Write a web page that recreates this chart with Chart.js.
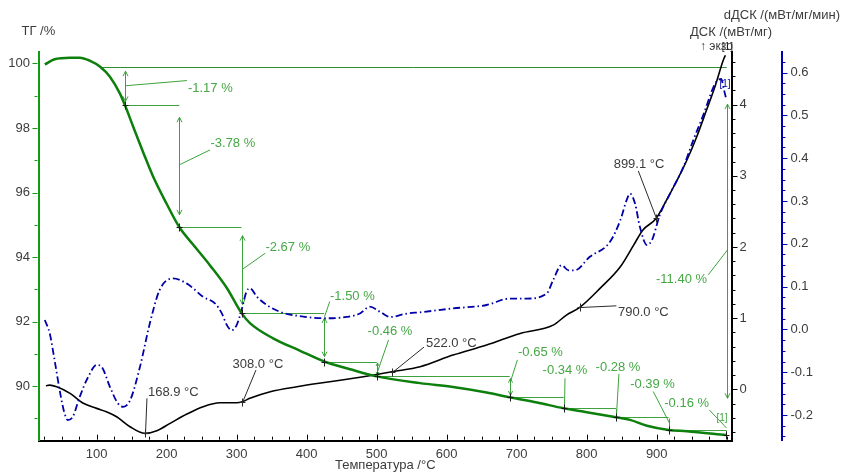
<!DOCTYPE html>
<html>
<head>
<meta charset="utf-8">
<script src="https://cdn.jsdelivr.net/npm/chart.js@4.4.1/dist/chart.umd.min.js"></script>
<style>
  html, body { margin: 0; padding: 0; background: #ffffff; overflow: hidden; }
  #wrap { width: 841px; height: 472px; }
</style>
</head>
<body>
<div id="wrap"><canvas id="c" width="841" height="472"></canvas></div>
<script>
// ---- tick labels ----
const X_TICKS = [100, 200, 300, 400, 500, 600, 700, 800, 900];
const TG_TICKS = [90, 92, 94, 96, 98, 100];
const DSC_TICKS = [0, 1, 2, 3, 4];
const DDSC_TICKS = [-0.2, -0.1, 0.0, 0.1, 0.2, 0.3, 0.4, 0.5, 0.6];

// ---- TG curve (mass, %) ----
const TG_T   = [26, 40, 62, 76, 90, 105, 119, 133, 140.4, 152.4, 166.6, 181, 200, 218, 238, 262, 286, 307,
                319, 352, 390, 425, 462, 500, 562, 609, 657, 690, 729, 767, 800, 842, 862, 886, 917, 943, 999];
const TG_PCT = [99.97, 100.13, 100.18, 100.18, 100.09, 99.90, 99.59, 99.08, 98.71, 98.03, 97.24, 96.48, 95.65, 94.93,
                94.38, 93.74, 93.04, 92.26, 91.95, 91.48, 91.10, 90.76, 90.52, 90.30, 90.09, 89.97, 89.80, 89.65,
                89.49, 89.31, 89.19, 89.03, 88.95, 88.77, 88.64, 88.60, 88.48];

// ---- DSC curve (mW/mg) ----
const DSC_T   = [27.6, 33, 43, 62, 81, 100, 114, 128.6, 147.6, 168.9, 186, 205, 229, 252, 276, 300, 308, 319, 348,
                 386, 433, 481, 500, 522, 562, 609, 657, 705, 752, 771, 790, 819, 848, 867, 880, 899.1, 914, 929,
                 943, 957, 971, 983, 995, 998];
const DSC_VAL = [0.051, 0.060, 0.036, -0.056, -0.196, -0.267, -0.314, -0.385, -0.525, -0.618, -0.581, -0.477, -0.347,
                 -0.244, -0.188, -0.188, -0.174, -0.126, -0.034, 0.036, 0.107, 0.177, 0.208, 0.247, 0.317, 0.481,
                 0.622, 0.786, 0.902, 1.043, 1.151, 1.418, 1.721, 2.025, 2.236, 2.40, 2.657, 2.937, 3.218, 3.545,
                 3.920, 4.247, 4.622, 4.692];

// ---- dDSC curve (mW/mg/min) ----
const DDSC_T   = [26, 33, 40, 48, 54, 59, 66, 76, 88, 100, 107, 119, 130, 138, 148, 162, 176, 190, 209, 229, 238,
                  252, 269, 279, 286, 293, 300, 307, 314, 319, 329, 343, 362, 390, 429, 457, 476, 490, 505, 519,
                  543, 562, 609, 657, 690, 714, 743, 752, 764, 774, 783, 804, 833, 848, 857, 862, 869, 876, 886,
                  893, 905, 919, 938, 952, 967, 981, 986, 992, 996, 999];
const DDSC_VAL = [0.022, -0.009, -0.072, -0.149, -0.195, -0.212, -0.204, -0.157, -0.111, -0.083, -0.087, -0.134,
                  -0.172, -0.181, -0.165, -0.087, 0.014, 0.092, 0.119, 0.107, 0.096, 0.076, 0.061, 0.037, 0.010,
                  -0.002, 0.010, 0.045, 0.088, 0.096, 0.076, 0.057, 0.041, 0.031, 0.026, 0.029, 0.037, 0.053,
                  0.041, 0.029, 0.037, 0.040, 0.049, 0.057, 0.072, 0.072, 0.084, 0.115, 0.150, 0.138, 0.138,
                  0.169, 0.204, 0.255, 0.302, 0.317, 0.294, 0.239, 0.197, 0.208, 0.270, 0.317, 0.379, 0.441,
                  0.503, 0.566, 0.580, 0.585, 0.560, 0.540];

// ---- mass-loss steps ----
const TG_REF_LEVEL = 99.88;   // TG level the first step is measured from
const TG_REF_T = 105;         // where the reference line begins
const STEP_T = [140.4, 218, 307, 425, 500, 690, 767, 842, 917, 999];
const STEP_LOSS = [-1.17, -3.78, -2.67, -1.50, -0.46, -0.65, -0.34, -0.28, -0.39, -0.16];
const TOTAL_T = 1000;
const TOTAL_LOSS = -11.40;

// ---- characteristic DSC temperatures, °C ----
const PEAK_T = [168.9, 308.0, 522.0, 790.0, 899.1];

// ---- label placement (axis units) ----
// step leaders: [TG on the arrow, T end, TG end]; step labels: [T, TG, align]
const STEP_LEADER = [
  [99.31, 229, 99.47], [96.86, 262, 97.32], [93.62, 341, 94.12], [92.15, 433, 92.62], [90.44, 517, 91.43],
  [90.14, 701, 90.81], [89.36, 769, 90.24], [89.11, 846, 90.38], [88.85, 895, 89.83], [88.70, 975, 89.26]
];
const STEP_LABEL = [
  [230.4, 99.24, 'left'], [262.6, 97.53, 'left'], [341.1, 94.30, 'left'], [433.3, 92.78, 'left'],
  [519, 91.69, 'center'], [701.9, 91.05, 'left'], [769, 90.47, 'center'], [844.7, 90.57, 'center'],
  [894, 90.06, 'center'], [974.7, 89.47, 'right']
];
const TOTAL_LEADER = [94.22, 973.7, 93.45];
const TOTAL_LABEL = [971.9, 93.29, 'right'];
// peak leaders: [T end, DSC end]; peak labels: [T, DSC, align]
const PEAK_LEADER = [[171.9, -0.126], [327.6, 0.271], [567.6, 0.594], [842.4, 1.173], [873.7, 3.068]];
const PEAK_LABEL = [[173.3, -0.038, 'left'], [330.4, 0.355, 'center'], [570.4, 0.646, 'left'],
                    [844.7, 1.075, 'left'], [874.7, 3.162, 'center']];

// ---- styling ----
const FONT = "'Liberation Sans', Arial, sans-serif";
const TEXT_GRAY = '#3c3c3c';
const TG_COLOR = '#0d7f0d';
const TG_AXIS = '#129a12';
const ANN_LINE = '#3da23d';
const ANN_TEXT = '#45a845';
const DSC_COLOR = '#000000';
const DDSC_COLOR = '#0000a8';
const DDSC_AXIS = '#0000b4';

function toPoints(xs, ys) { return xs.map((x, i) => ({ x: x, y: ys[i] })); }

function stepLevels() {
  const lv = [TG_REF_LEVEL];
  STEP_LOSS.forEach(d => lv.push(+(lv[lv.length - 1] + d).toFixed(3)));
  return lv;
}

function arrowHead(ctx, x, y, dir, size) {
  ctx.moveTo(x - size * 0.5, y - dir * size);
  ctx.lineTo(x, y);
  ctx.lineTo(x + size * 0.5, y - dir * size);
}
function vArrow(ctx, x, yTop, yBot) {
  const span = yBot - yTop;
  const a = yTop + span * 0.1, b = yBot - span * 0.1;
  ctx.beginPath();
  ctx.moveTo(x, a); ctx.lineTo(x, b);
  if (span > 14) {
    const s = Math.min(5, span * 0.2);
    arrowHead(ctx, x, a, -1, s);
    arrowHead(ctx, x, b, 1, s);
  }
  ctx.stroke();
}
function cross(ctx, x, y, r) {
  ctx.beginPath();
  ctx.moveTo(x - r, y); ctx.lineTo(x + r, y);
  ctx.moveTo(x, y - r - 1); ctx.lineTo(x, y + r + 1);
  ctx.stroke();
}
function text(ctx, str, x, y, align, color, size) {
  ctx.font = (size || 13) + 'px ' + FONT;
  ctx.fillStyle = color;
  ctx.textAlign = align;
  ctx.textBaseline = 'middle';
  ctx.fillText(str, x, y);
}

// Mass-loss steps, DSC temperature markers and header texts
const thermoAnnotations = {
  id: 'thermoAnnotations',
  beforeDatasetsDraw(chart) {
    const ctx = chart.ctx;
    const X = v => chart.scales.x.getPixelForValue(v);
    const Y = v => chart.scales.yTG.getPixelForValue(v);
    const lv = stepLevels();
    ctx.save();
    ctx.lineWidth = 1;
    // reference level
    ctx.strokeStyle = '#2f8f2f';
    ctx.beginPath();
    ctx.moveTo(X(TG_REF_T), Math.round(Y(lv[0])) + 0.5);
    ctx.lineTo(X(TOTAL_T), Math.round(Y(lv[0])) + 0.5);
    ctx.stroke();
    ctx.strokeStyle = ANN_LINE;
    for (let i = 0; i < STEP_T.length; i++) {
      const x = Math.round(X(STEP_T[i])) + 0.5;
      vArrow(ctx, x, Y(lv[i]), Y(lv[i + 1]));
      if (i + 1 < STEP_T.length) {
        const y = Math.round(Y(lv[i + 1])) + 0.5;
        ctx.beginPath(); ctx.moveTo(X(STEP_T[i]), y); ctx.lineTo(X(STEP_T[i + 1]), y); ctx.stroke();
      }
      const L = STEP_LEADER[i];
      ctx.beginPath(); ctx.moveTo(x, Y(L[0])); ctx.lineTo(X(L[1]), Y(L[2])); ctx.stroke();
    }
    // total loss
    const xt = Math.round(X(TOTAL_T)) + 0.5;
    vArrow(ctx, xt, Y(lv[0]), Y(lv[0] + TOTAL_LOSS));
    ctx.beginPath(); ctx.moveTo(xt, Y(TOTAL_LEADER[0])); ctx.lineTo(X(TOTAL_LEADER[1]), Y(TOTAL_LEADER[2])); ctx.stroke();
    ctx.restore();
  },
  afterDatasetsDraw(chart) {
    const ctx = chart.ctx;
    const sx = chart.scales.x, sTG = chart.scales.yTG, sD = chart.scales.yDSC, sDD = chart.scales.yDDSC;
    const X = v => sx.getPixelForValue(v);
    const Y = v => sTG.getPixelForValue(v);
    const YD = v => sD.getPixelForValue(v);
    const lv = stepLevels();
    ctx.save();
    ctx.lineWidth = 1;
    // step crosses and labels
    ctx.strokeStyle = '#1a1a1a';
    STEP_T.forEach((t, i) => cross(ctx, Math.round(X(t)) + 0.5, Math.round(Y(lv[i + 1])) + 0.5, 3));
    STEP_LOSS.forEach((d, i) => {
      const p = STEP_LABEL[i];
      text(ctx, d.toFixed(2) + ' %', X(p[0]), Y(p[1]), p[2], ANN_TEXT);
    });
    text(ctx, TOTAL_LOSS.toFixed(2) + ' %', X(TOTAL_LABEL[0]), Y(TOTAL_LABEL[1]), TOTAL_LABEL[2], ANN_TEXT);

    // DSC temperatures
    ctx.strokeStyle = '#2a2a2a';
    PEAK_T.forEach((t, i) => {
      const v = DSC_VAL[DSC_T.indexOf(t)];
      const px = Math.round(X(t)) + 0.5, py = Math.round(YD(v)) + 0.5;
      ctx.beginPath(); ctx.moveTo(px, py); ctx.lineTo(X(PEAK_LEADER[i][0]), YD(PEAK_LEADER[i][1])); ctx.stroke();
      cross(ctx, px, py, 3);
      const p = PEAK_LABEL[i];
      text(ctx, t.toFixed(1) + ' °C', X(p[0]), YD(p[1]), p[2], TEXT_GRAY);
    });

    // curve end tags
    const nT = TG_T.length - 1, nD = DSC_T.length - 1, nDD = DDSC_T.length - 1;
    text(ctx, '[1]', X(TG_T[nT]) - 4, Y(TG_PCT[nT]) - 17, 'center', ANN_TEXT, 10);
    text(ctx, '[1]', X(DDSC_T[nDD]) - 1, sDD.getPixelForValue(DDSC_VAL[nDD]) - 14, 'center', DDSC_COLOR, 10);

    // headers
    const ca = chart.chartArea;
    text(ctx, 'ТГ /%', sTG.left + 21.5, ca.top - 21, 'left', TEXT_GRAY);
    text(ctx, 'dДСК /(мВт/мг/мин)', 840, ca.top - 36.5, 'right', TEXT_GRAY);
    text(ctx, 'ДСК /(мВт/мг)', ca.right - 42, ca.top - 19.5, 'left', TEXT_GRAY);
    text(ctx, '↑ экзо', ca.right - 32, ca.top - 5.5, 'left', TEXT_GRAY, 12);
    text(ctx, '[1]', X(DSC_T[nD]) + 2, YD(DSC_VAL[nD]) - 8, 'center', '#1a1a1a', 10);
    ctx.restore();
  },
  afterDraw(chart) {
    // axis tick marks: long at labelled values, short in between
    const ctx = chart.ctx, ca = chart.chartArea;
    function marks(scale, from, to, step, majors, horizontal, base, dir, majorLen, minorLen, color) {
      ctx.save();
      ctx.strokeStyle = color; ctx.lineWidth = 1;
      ctx.beginPath();
      const n = Math.round((to - from) / step);
      for (let k = 0; k <= n; k++) {
        const v = from + k * step;
        const major = majors.some(m => Math.abs(m - v) < step / 10);
        const len = major ? majorLen : minorLen;
        const p = Math.round(scale.getPixelForValue(v)) + 0.5;
        if (horizontal) { ctx.moveTo(p, base); ctx.lineTo(p, base + dir * len); }
        else { ctx.moveTo(base, p); ctx.lineTo(base + dir * len, p); }
      }
      ctx.stroke();
      ctx.restore();
    }
    const s = chart.scales;
    marks(s.x, 25, 1000, 25, X_TICKS, true, ca.bottom - 1, -1, 5, 3, '#000000');
    marks(s.yTG, 89, 100, 1, TG_TICKS, false, ca.left - 1, -1, 5, 3, TG_AXIS);
    marks(s.yDSC, -0.6, 4.6, 0.2, DSC_TICKS, false, ca.right + 1, 1, 4.5, 2.5, '#000000');
    marks(s.yDDSC, -0.25, 0.625, 0.025, DDSC_TICKS, false, s.yDDSC.left + 1, 1, 4.5, 2.5, DDSC_AXIS);
  }
};

const tickFont = { family: FONT, size: 13 };
const noGrid = { display: true, drawOnChartArea: false, drawTicks: false };

new Chart(document.getElementById('c'), {
  type: 'line',
  data: {
    datasets: [
      { label: 'ТГ', data: toPoints(TG_T, TG_PCT), yAxisID: 'yTG', borderColor: TG_COLOR, borderWidth: 2.5,
        pointRadius: 0, cubicInterpolationMode: 'monotone', fill: false },
      { label: 'dДСК', data: toPoints(DDSC_T, DDSC_VAL), yAxisID: 'yDDSC', borderColor: DDSC_COLOR, borderWidth: 1.8,
        borderDash: [7, 3, 1.5, 3], pointRadius: 0, cubicInterpolationMode: 'monotone', fill: false },
      { label: 'ДСК', data: toPoints(DSC_T, DSC_VAL), yAxisID: 'yDSC', borderColor: DSC_COLOR, borderWidth: 1.6,
        pointRadius: 0, cubicInterpolationMode: 'monotone', fill: false }
    ]
  },
  options: {
    responsive: false,
    maintainAspectRatio: false,
    animation: false,
    layout: { padding: { top: 52, left: 0, right: 0, bottom: 0 } },
    plugins: { legend: { display: false }, tooltip: { enabled: false } },
    scales: {
      x: {
        type: 'linear', position: 'bottom', min: 17, max: 1007.5,
        afterFit: s => { s.height = 31.3; },
        afterBuildTicks: s => { s.ticks = X_TICKS.map(v => ({ value: v })); },
        ticks: { padding: 5.5, font: tickFont, color: TEXT_GRAY, maxRotation: 0, autoSkip: false,
                 callback: v => String(v) },
        grid: noGrid,
        border: { display: true, color: '#000000', width: 2 },
        title: { display: true, text: 'Температура /°C', color: TEXT_GRAY,
                 font: { family: FONT, size: 13, lineHeight: 1 }, padding: { top: 0, bottom: 0.5 } }
      },
      yTG: {
        type: 'linear', position: 'left', min: 88.305, max: 100.356,
        afterFit: s => { s.width = 38.5; },
        afterBuildTicks: s => { s.ticks = TG_TICKS.map(v => ({ value: v })); },
        ticks: { padding: 8.5, font: tickFont, color: TEXT_GRAY, callback: v => String(v) },
        grid: noGrid,
        border: { display: true, color: TG_AXIS, width: 2 }
      },
      yDSC: {
        type: 'linear', position: 'right', weight: 0, min: -0.721, max: 4.738,
        afterFit: s => { s.width = 50; },
        afterBuildTicks: s => { s.ticks = DSC_TICKS.map(v => ({ value: v })); },
        ticks: { padding: 7.5, font: tickFont, color: TEXT_GRAY, callback: v => String(v) },
        grid: noGrid,
        border: { display: true, color: '#000000', width: 2 }
      },
      yDDSC: {
        type: 'linear', position: 'right', weight: 1, min: -0.260, max: 0.648,
        afterFit: s => { s.width = 59; },
        afterBuildTicks: s => { s.ticks = DDSC_TICKS.map(v => ({ value: v })); },
        ticks: { padding: 8.5, font: tickFont, color: TEXT_GRAY, callback: v => Number(v).toFixed(1) },
        grid: noGrid,
        border: { display: true, color: DDSC_AXIS, width: 2 }
      }
    }
  },
  plugins: [thermoAnnotations]
});
</script>
</body>
</html>
